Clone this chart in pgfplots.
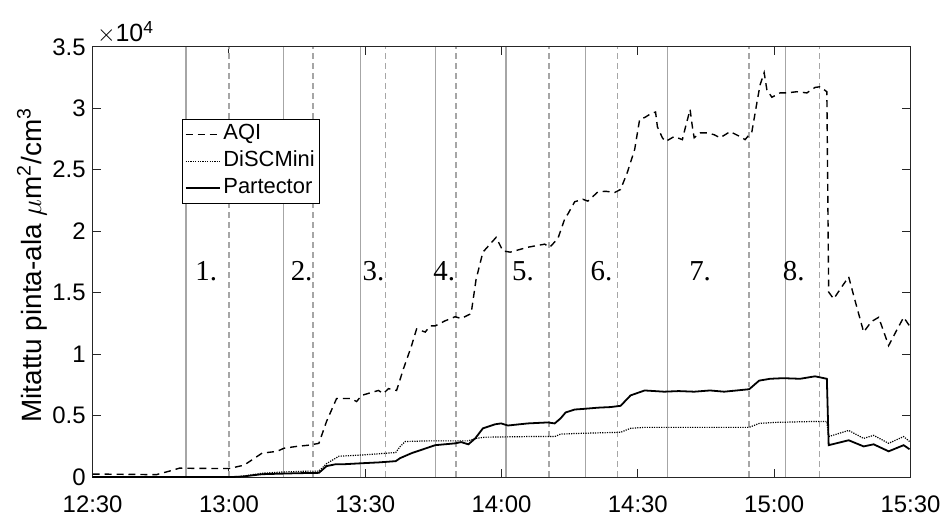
\documentclass[border=0pt]{standalone}
\usepackage{fontspec}
\setmainfont{Liberation Sans}
\newfontfamily\seriffont{Liberation Serif}
\usepackage{pgfplots}
\pgfplotsset{compat=1.18}
\tikzset{numlab/.style={font=\seriffont\fontsize{14.5}{16}\selectfont}}

\pgfplotstableread{
m v
0 250
7 230
14 200
17 500
19.1 730
24 710
30 700
33.3 970
37.3 1950
40.6 2100
42.1 2350
44.9 2500
47.6 2600
49.8 2750
51.5 4550
53.7 6400
55.3 6400
56.8 6400
58.1 6150
59.2 6650
62.9 7050
64.0 6800
65.1 7200
66.9 7050
68.4 8800
70.2 10700
71.3 12050
73.2 11800
74.3 12300
75.4 12300
77.5 12700
79.8 13050
81.1 12900
83.3 13300
84.4 16100
85.9 18300
88.8 19500
90.3 18400
91.9 18300
95.8 18700
99.5 18950
100.6 18700
102.4 19400
103.9 21000
104.6 21400
106.1 22400
107.9 22600
109.0 22450
111.2 23200
112.9 23250
114.9 23150
116.2 23400
117.7 24800
119.3 26650
120.4 29100
121.5 29250
122.6 29500
123.9 29700
124.3 28500
125.4 27600
126.1 27300
128.0 27700
129.8 27450
130.5 28500
131.5 29900
132.0 28500
132.4 27600
133.7 28000
135.3 28000
136.8 27850
138.1 27600
140.3 28100
142.5 27700
143.6 27450
145.1 28100
146.2 30450
146.9 31900
147.8 32900
148.4 31500
149.5 30900
151.3 31250
152.8 31250
155.0 31350
157.2 31250
159.0 31700
160.1 31750
161.6 31350
162.0 15050
163.1 14500
166.4 16300
167.7 14500
169.7 11800
171.4 12650
173.0 13000
175.2 10700
176.9 11900
178.5 13000
179.8 12300
}\aqi

\pgfplotstableread{
m v
0 0
30 0
33 80
37.3 320
42 420
47.6 490
49.8 490
51.5 1100
54.2 1700
59.2 1800
66.7 2000
67.7 2500
68.8 2900
73.9 2950
82.7 2950
84.2 3150
86.4 3250
95.8 3300
101.7 3300
103.0 3500
106.3 3550
116.2 3650
118.4 3970
121.5 4050
144.5 4050
146.7 4370
150.0 4450
159.0 4530
161.6 4530
162.0 3300
166.4 3800
169.7 3150
171.9 3400
175.2 2750
178.5 3300
179.8 2900
}\disc

\pgfplotstableread{
m v
0 0
30 0
33 50
37.3 240
45 320
49.8 350
51.5 900
53.5 1050
55.3 1050
59.2 1130
63 1200
66.7 1300
67.7 1550
70.2 1950
73 2300
75.4 2600
79.8 2750
81.1 2850
82.7 2670
84.2 3150
85.9 3970
88.6 4300
89.9 4370
91.4 4200
95.8 4370
100.2 4450
101.7 4370
103.0 4780
104.1 5260
106.1 5500
108 5550
111.2 5650
114 5700
116.2 5800
118.4 6650
121.5 7050
125.8 6950
129 7000
132.4 6950
135.9 7050
139.0 6950
144.5 7150
146.7 7850
149.1 8000
152 8050
155.7 8000
159.0 8200
161.6 8000
162.0 2600
166.4 3000
169.7 2500
171.9 2670
175.2 2100
178.5 2600
179.8 2270
}\part

\begin{document}
\begin{tikzpicture}
\begin{axis}[
  scale only axis, width=410.5pt, height=216pt,
  xmin=0, xmax=180, ymin=0, ymax=35000,
  clip mode=individual,
  xtick={0,30,...,180},
  xticklabels={12:30,13:00,13:30,14:00,14:30,15:00,15:30},
  ytick={0,5000,...,35000},
  yticklabels={0,0.5,1,1.5,2,2.5,3,3.5},
  scaled y ticks=false,
  tick align=inside, tick pos=both, major tick length=4pt,
  tick style={black!85, line width=0.5pt},
  axis line style={black!85, line width=0.6pt},
  ticklabel style={font=\fontsize{12}{14}\selectfont},
  xticklabel style={yshift=-6pt},
  /pgf/number format/assume math mode=true,
  ylabel={Mitattu pinta-ala $\mu$m\textsuperscript{2}/cm\textsuperscript{3}},
  ylabel style={font=\fontsize{14}{16}\selectfont, at={(axis description cs:-0.0743,0.493)}, anchor=center},
  legend style={at={(0.1096,0.8333)}, anchor=north west, draw=black, line width=0.5pt,
    font=\fontsize{11}{13}\selectfont, inner sep=1pt, row sep=0pt,
    nodes={inner sep=1.5pt, text height=8pt, text depth=2.5pt},
    cells={anchor=west}},
  legend image code/.code={\draw[#1] (0pt,0pt) -- (17pt,0pt);},
]
\pgfplotsinvokeforeach{20.5,42,59,75.5,91,108.5,126.5,152.5}{
  \addplot[gray!70, line width=0.8pt, forget plot] coordinates {(#1,0) (#1,35000)};
}
\pgfplotsinvokeforeach{30,48.5,64.5,80,100.5,115.5,144.5,160}{
  \addplot[gray!70, line width=0.8pt, dash pattern=on 3pt off 2pt, forget plot] coordinates {(#1,0) (#1,35000)};
}
\addplot[black, line width=0.7pt, dash pattern=on 3.5pt off 2.5pt] table[x=m,y=v] {\aqi};
\addlegendentry{AQI}
\addplot[black, line width=0.6pt, dash pattern=on 0.6pt off 0.6pt] table[x=m,y=v] {\disc};
\addlegendentry{DiSCMini}
\addplot[black, line width=0.9pt] table[x=m,y=v] {\part};
\addlegendentry{Partector}

\node[numlab] at (axis cs:25,16770) {1.};
\node[numlab] at (axis cs:46,16770) {2.};
\node[numlab] at (axis cs:61.8,16770) {3.};
\node[numlab] at (axis cs:77.4,16770) {4.};
\node[numlab] at (axis cs:94.7,16770) {5.};
\node[numlab] at (axis cs:112,16770) {6.};
\node[numlab] at (axis cs:133.7,16770) {7.};
\node[numlab] at (axis cs:154.3,16770) {8.};
\end{axis}
\node[anchor=base west, inner sep=0pt, font=\fontsize{12.5}{14}\selectfont] at ([xshift=2pt, yshift=2.5pt]current axis.north west) {$\times$10\textsuperscript{4}};
\path (current axis.south west) ++(-46.5pt,-17pt) coordinate (bl);
\path (current axis.north east) ++(16.5pt,23.5pt) coordinate (tr);
\path (bl) rectangle (tr);
\end{tikzpicture}
\end{document}
